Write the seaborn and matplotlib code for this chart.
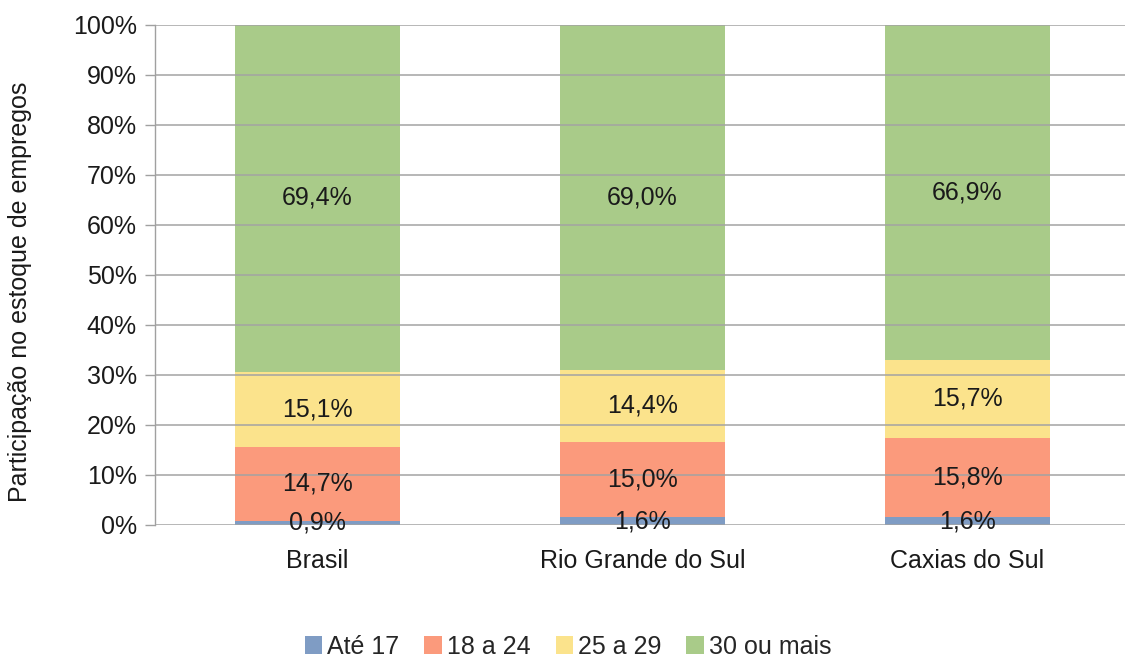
import numpy as np
import pandas as pd
import matplotlib
matplotlib.use("Agg")
import matplotlib.pyplot as plt
from matplotlib.patches import Patch
import seaborn as sns

regioes = ["Brasil", "Rio Grande do Sul", "Caxias do Sul"]
faixas = ["Até 17", "18 a 24", "25 a 29", "30 ou mais"]
ate17 = [0.9, 1.6, 1.6]
de18a24 = [14.7, 15.0, 15.8]
de25a29 = [15.1, 14.4, 15.7]
mais30 = [69.4, 69.0, 66.9]
cores = ["#7f9cc4", "#fb9a7c", "#fbe38c", "#a9cb89"]
yticks = [0, 10, 20, 30, 40, 50, 60, 70, 80, 90, 100]

sns.set_style("white")
plt.rcParams["font.family"] = ["Liberation Sans", "DejaVu Sans"]

valores = np.array([ate17, de18a24, de25a29, mais30])
acum = valores.cumsum(axis=0)

fig = plt.figure(figsize=(11.25, 6.57), dpi=100)
ax = fig.add_axes([155 / 1125, 132 / 657, 975 / 1125, 500 / 657])

# stacked bars: draw the tallest cumulative first so the lower ones cover it
for i in reversed(range(len(faixas))):
    df = pd.DataFrame({"regiao": regioes, "valor": acum[i]})
    sns.barplot(data=df, x="regiao", y="valor", color=cores[i], saturation=1,
                width=0.505, linewidth=0, ax=ax, zorder=1)

for i in range(len(faixas)):
    for j in range(len(regioes)):
        meio = acum[i][j] - valores[i][j] / 2
        ax.text(j, meio, f"{valores[i][j]:.1f}%".replace(".", ","),
                ha="center", va="center", fontsize=18, color="#1a1a1a", zorder=4)

ax.set_xlim(-0.5, 2.5)
ax.set_ylim(0, 100)
ax.set_yticks(yticks)
ax.set_yticklabels([f"{t}%" for t in yticks], fontsize=18, color="#1a1a1a")
ax.set_xticks(range(len(regioes)))
ax.set_xticklabels(regioes, fontsize=18, color="#1a1a1a")
ax.set_xticks([-0.5, 0.5, 1.5, 2.5], minor=True)
ax.tick_params(axis="x", which="major", length=0, pad=17)
ax.tick_params(axis="x", which="minor", length=10, color="#a0a0a0", width=1, direction="out")
ax.tick_params(axis="y", length=7, color="#a0a0a0", width=1, direction="out", pad=6, left=True)

ax.set_axisbelow(False)
ax.yaxis.grid(True, color="#a3a3a3", linewidth=1.1, zorder=2.5)
ax.xaxis.grid(False)
for s in ["top", "right", "bottom"]:
    ax.spines[s].set_visible(False)
ax.spines["left"].set_color("#a0a0a0")
ax.spines["left"].set_linewidth(1)

ax.set_xlabel("")
ax.set_ylabel("Participação no estoque de empregos", fontsize=18, color="#1a1a1a")
ax.yaxis.set_label_coords(-0.126, 0.466)

handles = [Patch(facecolor=c, edgecolor="none") for c in cores]
fig.legend(handles, faixas, loc="lower center", bbox_to_anchor=(0.505, -0.037), ncol=4,
           frameon=False, fontsize=18, handlelength=0.7, handleheight=0.7,
           handletextpad=0.2, columnspacing=1.0)

fig.savefig("out.png", dpi=100)
